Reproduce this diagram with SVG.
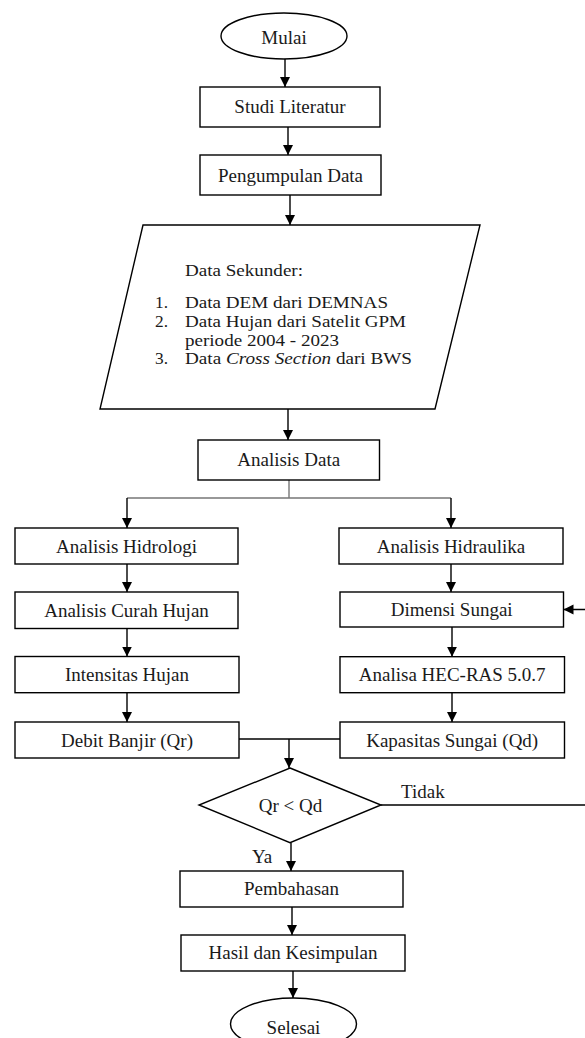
<svg xmlns="http://www.w3.org/2000/svg" width="585" height="1038" viewBox="0 0 585 1038">
<style>
.n{fill:#fff;stroke:#000;stroke-width:1.4}
.t{font-family:"Liberation Serif","Times New Roman",serif;font-size:19px;fill:#1a1a1a}
.l{font-size:16px}
.c{text-anchor:middle}
.e{fill:none;stroke:#000;stroke-width:1.4}
.g{fill:none;stroke:#777;stroke-width:1.4}
</style>
<defs>
<marker id="ah" markerUnits="userSpaceOnUse" markerWidth="10" markerHeight="12" refX="10" refY="5" orient="auto">
<path d="M0,0 L10,5 L0,10 Z" fill="#000"/>
</marker>
</defs>
<rect width="585" height="1038" fill="#fff"/>
<g id="connectors">
<path class="e" d="M285,59 V87" marker-end="url(#ah)"/>
<path class="e" d="M288,127 V155" marker-end="url(#ah)"/>
<path class="e" d="M290,195 V225" marker-end="url(#ah)"/>
<path class="e" d="M288,409 V440" marker-end="url(#ah)"/>
<path class="g" d="M289,480 V498 M127,498 H451"/>
<path class="e" d="M127,498 V528" marker-end="url(#ah)"/>
<path class="e" d="M451,498 V528" marker-end="url(#ah)"/>
<path class="e" d="M127,564 V592" marker-end="url(#ah)"/>
<path class="e" d="M127,628.5 V656.5" marker-end="url(#ah)"/>
<path class="e" d="M127,692.7 V722" marker-end="url(#ah)"/>
<path class="e" d="M451,564 V592" marker-end="url(#ah)"/>
<path class="e" d="M452,627 V656.7" marker-end="url(#ah)"/>
<path class="e" d="M452,692.7 V722" marker-end="url(#ah)"/>
<path class="e" d="M239,739 H340"/>
<path class="e" d="M289,739 V768" marker-end="url(#ah)"/>
<path class="e" d="M381,805 H592 V609.5 H563.5" marker-end="url(#ah)"/>
<text class="t" x="401" y="798">Tidak</text>
<path class="e" d="M291,842.7 V871" marker-end="url(#ah)"/>
<text class="t" x="252" y="863">Ya</text>
<path class="e" d="M292,907 V935" marker-end="url(#ah)"/>
<path class="e" d="M293,971 V998" marker-end="url(#ah)"/>
</g>
<g id="mulai">
<ellipse class="n" cx="284" cy="36" rx="63" ry="23"/>
<text class="t c" x="284" y="44">Mulai</text>
</g>
<g id="studi">
<rect class="n" x="200" y="87" width="180" height="40"/>
<text class="t c" x="290" y="113">Studi Literatur</text>
</g>
<g id="pengumpulan">
<rect class="n" x="200" y="155" width="181" height="40"/>
<text class="t c" x="290.5" y="181.5">Pengumpulan Data</text>
</g>
<g id="data-sekunder">
<polygon class="n" points="143,225 480,225 435,409 100,409"/>
<text class="t l" x="185" y="276" textLength="118" lengthAdjust="spacingAndGlyphs">Data Sekunder:</text>
<text class="t l" x="155" y="308" textLength="13" lengthAdjust="spacingAndGlyphs">1.</text>
<text class="t l" x="185" y="308" textLength="203" lengthAdjust="spacingAndGlyphs">Data DEM dari DEMNAS</text>
<text class="t l" x="155" y="327" textLength="13" lengthAdjust="spacingAndGlyphs">2.</text>
<text class="t l" x="185" y="327" textLength="221" lengthAdjust="spacingAndGlyphs">Data Hujan dari Satelit GPM</text>
<text class="t l" x="185" y="345.5" textLength="154" lengthAdjust="spacingAndGlyphs">periode 2004 - 2023</text>
<text class="t l" x="155" y="364" textLength="13" lengthAdjust="spacingAndGlyphs">3.</text>
<text class="t l" x="185" y="364" textLength="227" lengthAdjust="spacingAndGlyphs">Data <tspan font-style="italic">Cross Section</tspan> dari BWS</text>
</g>
<g id="analisis-data">
<rect class="n" x="198" y="440" width="181.5" height="40"/>
<text class="t c" x="288.7" y="466">Analisis Data</text>
</g>
<g id="hidrologi">
<rect class="n" x="15" y="528" width="223" height="36"/>
<text class="t c" x="126.5" y="552.5">Analisis Hidrologi</text>
</g>
<g id="curah-hujan">
<rect class="n" x="15" y="592" width="223" height="36.5"/>
<text class="t c" x="126.5" y="616.5">Analisis Curah Hujan</text>
</g>
<g id="intensitas">
<rect class="n" x="15" y="656.5" width="224" height="36.2"/>
<text class="t c" x="127" y="681">Intensitas Hujan</text>
</g>
<g id="debit">
<rect class="n" x="15" y="722" width="224" height="36"/>
<text class="t c" x="127" y="746.5">Debit Banjir (Qr)</text>
</g>
<g id="hidraulika">
<rect class="n" x="339" y="528" width="224" height="36"/>
<text class="t c" x="451" y="552.5">Analisis Hidraulika</text>
</g>
<g id="dimensi">
<rect class="n" x="340" y="592" width="223.5" height="35"/>
<text class="t c" x="451.7" y="616">Dimensi Sungai</text>
</g>
<g id="hecras">
<rect class="n" x="340" y="656.7" width="224.5" height="36"/>
<text class="t c" x="452.2" y="681">Analisa HEC-RAS 5.0.7</text>
</g>
<g id="kapasitas">
<rect class="n" x="340" y="722" width="224.5" height="36"/>
<text class="t c" x="452.2" y="746.5">Kapasitas Sungai (Qd)</text>
</g>
<g id="keputusan">
<polygon class="n" points="290,768 381,805 290,842.7 199,805"/>
<text class="t c" x="290.5" y="811.5">Qr &lt; Qd</text>
</g>
<g id="pembahasan">
<rect class="n" x="180" y="871" width="223" height="36"/>
<text class="t c" x="291.5" y="895">Pembahasan</text>
</g>
<g id="hasil">
<rect class="n" x="181" y="935" width="224" height="36"/>
<text class="t c" x="293" y="959">Hasil dan Kesimpulan</text>
</g>
<g id="selesai">
<ellipse class="n" cx="293.5" cy="1024" rx="63" ry="26"/>
<text class="t c" x="293.5" y="1034">Selesai</text>
</g>
</svg>
